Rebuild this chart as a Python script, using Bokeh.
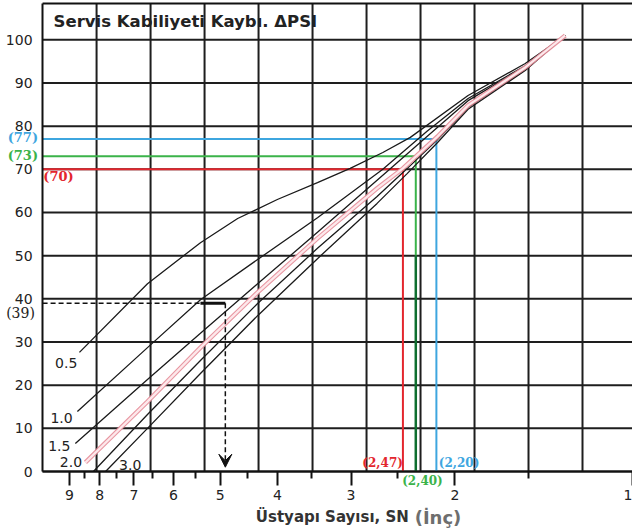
from bokeh.plotting import figure
from bokeh.models import Range1d, FixedTicker, PrintfTickFormatter, Label, Arrow, VeeHead, ColumnDataSource
from bokeh.embed import file_html
from bokeh.resources import INLINE
from bokeh.core.properties import value

# ---------------- data ----------------
# Delta PSI curves: SN (x, log scale, reversed) vs. chart value (y)
sn_05 = [8.66, 6.64, 5.40, 4.67, 4.00, 3.42, 3.01, 2.65, 2.38, 1.90, 1.52, 1.30]
y_05 = [27.6, 43.5, 53.0, 58.6, 63.0, 66.9, 70.2, 73.9, 77.4, 87.1, 94.5, 101.0]

sn_10 = [8.73, 6.64, 5.40, 4.32, 3.42, 2.65, 2.23, 1.90, 1.52, 1.30]
y_10 = [13.9, 28.7, 39.8, 49.1, 58.8, 70.0, 78.8, 86.4, 94.0, 101.0]

sn_15 = [8.80, 6.64, 5.40, 4.32, 3.42, 2.58, 2.23, 1.90, 1.52, 1.30]
y_15 = [6.5, 21.3, 32.0, 43.5, 55.4, 70.0, 77.6, 85.9, 93.8, 101.0]

sn_20 = [8.46, 6.64, 5.40, 4.32, 3.42, 2.71, 2.45, 2.14, 1.90, 1.52, 1.30]
y_20 = [2.1, 16.2, 28.7, 41.5, 54.0, 65.6, 70.2, 77.6, 84.8, 93.6, 101.0]

sn_25 = [8.20, 6.64, 5.40, 4.32, 3.42, 2.71, 2.43, 2.14, 1.90, 1.52, 1.30]
y_25 = [0.0, 13.2, 25.7, 38.9, 51.7, 63.7, 69.7, 76.9, 84.3, 93.1, 101.0]

sn_30 = [7.82, 6.64, 5.40, 4.32, 3.42, 2.71, 2.41, 2.14, 1.90, 1.52, 1.30]
y_30 = [0.0, 10.0, 22.7, 36.1, 49.3, 62.1, 69.0, 76.2, 83.9, 92.9, 101.0]

curve_labels = ["0.5", "1.0", "1.5", "2.0", "3.0"]
curve_label_sn = [8.73, 8.89, 8.97, 8.57, 7.42]
curve_label_y = [25.2, 12.5, 6.0, 2.3, 1.6]

# worked examples (red, green, blue)
ex_y = [70, 73, 77]
ex_sn = [2.45, 2.33, 2.15]
ex_y_text = ["(70)", "(73)", "(77)"]
ex_sn_text = ["(2,47)", "(2,40)", "(2,20)"]
ex_colors = ["#e3262e", "#3bb34a", "#3ea6df"]

# dashed example
dash_y = 39
dash_turn_sn = 5.40
dash_sn = 4.90

# axis ticks / chart box
x_major = [1, 2, 3, 4, 5, 6, 7, 8, 9]
x_minor = [1.5, 2.5, 3.5, 4.5, 5.5, 6.5, 7.5, 8.5]
y_major = [0, 10, 20, 30, 40, 50, 60, 70, 80, 90, 100]
sn_edge = 10.0       # SN at the left edge of the chart box
sn_right = 1.0
y_top = 108.4
grid_cols = 11       # equally spaced vertical grid columns

# ---------------- figure ----------------
# the frame covers the whole canvas; the axes are pinned at the chart box edges
p = figure(width=632, height=528, x_axis_type="log",
           x_range=Range1d(11.785, sn_right), y_range=Range1d(-13.2, 109.1),
           output_backend="svg", toolbar_location=None,
           min_border=0, min_border_left=0, min_border_right=0,
           min_border_top=0, min_border_bottom=0)
p.background_fill_color = "white"
p.border_fill_color = "white"
p.outline_line_color = None
p.xgrid.visible = False
p.ygrid.visible = False

xa = p.xaxis[0]
xa.fixed_location = 0
xa.bounds = (sn_right, sn_edge)
xa.ticker = FixedTicker(ticks=x_major, minor_ticks=x_minor)
xa.formatter = PrintfTickFormatter(format="%d")
xa.axis_line_width = 2
xa.axis_line_color = "#111111"
xa.major_tick_in = 0
xa.major_tick_out = 14
xa.minor_tick_in = 0
xa.minor_tick_out = 7
xa.major_tick_line_width = 2
xa.minor_tick_line_width = 2
xa.major_tick_line_color = "#111111"
xa.minor_tick_line_color = "#111111"
xa.major_label_text_font = "DejaVu Sans"
xa.major_label_text_font_size = "14px"
xa.major_label_text_color = "#222222"
xa.major_label_standoff = 4

ya = p.yaxis[0]
ya.fixed_location = sn_edge
ya.bounds = (0, y_top)
ya.ticker = FixedTicker(ticks=y_major)
ya.axis_line_width = 2
ya.axis_line_color = "#111111"
ya.major_tick_in = 0
ya.major_tick_out = 0
ya.minor_tick_in = 0
ya.minor_tick_out = 0
ya.major_label_text_font = "DejaVu Sans"
ya.major_label_text_font_size = "14px"
ya.major_label_text_color = "#222222"
ya.major_label_standoff = 10

# chart box grid (vertical columns equally spaced, horizontal at the y ticks)
grid_x = [sn_edge * 10 ** (-i * 54.0 / 590.0) for i in range(1, grid_cols + 1)]
p.segment(x0=grid_x, y0=[0] * len(grid_x), x1=grid_x, y1=[y_top] * len(grid_x),
          line_color="#1e1e1e", line_width=2)
p.segment(x0=[sn_edge] * len(y_major), y0=y_major, x1=[sn_right] * len(y_major), y1=y_major,
          line_color="#1e1e1e", line_width=2)
p.line([sn_edge, sn_right], [y_top, y_top], line_color="#111111", line_width=2)

# example guide lines
for yv, sv, col in zip(ex_y, ex_sn, ex_colors):
    p.line([sn_edge, sv], [yv, yv], line_color=col, line_width=2)
p.line([ex_sn[0], ex_sn[0]], [0, ex_y[0]], line_color=ex_colors[0], line_width=2)
p.line([ex_sn[1], ex_sn[1]], [50, ex_y[1]], line_color=ex_colors[1], line_width=2)
p.line([ex_sn[1], ex_sn[1]], [0, 50], line_color="#0f6e2f", line_width=2.5)
p.line([ex_sn[2], ex_sn[2]], [0, ex_y[2]], line_color=ex_colors[2], line_width=2)

# curves
for xs, ys in [(sn_05, y_05), (sn_10, y_10), (sn_15, y_15), (sn_25, y_25), (sn_30, y_30)]:
    p.line(xs, ys, line_color="#1a1a1a", line_width=1.3)
p.line(sn_20, y_20, line_color="#e58c98", line_width=4.5, line_alpha=0.9)
p.line(sn_20, y_20, line_color="#fde8eb", line_width=2.3)

# dashed example path
p.line([sn_edge, dash_turn_sn], [dash_y, dash_y], line_color="#111111", line_width=1.5, line_dash="5 3")
p.line([dash_turn_sn, dash_sn], [dash_y, dash_y], line_color="#111111", line_width=3)
p.add_layout(Arrow(end=VeeHead(size=13, fill_color="#111111", line_color="#111111"),
                   x_start=dash_sn, y_start=dash_y, x_end=dash_sn, y_end=1.0,
                   line_color="#111111", line_width=1.5, line_dash="5 3"))

# curve labels
src = ColumnDataSource(dict(x=curve_label_sn[:4], y=curve_label_y[:4], t=curve_labels[:4]))
p.text(x="x", y="y", text="t", source=src, text_align="right", text_baseline="middle",
       text_font=value("DejaVu Sans"), text_font_size=value("14px"), text_color="#222222")
p.text(x=[curve_label_sn[4]], y=[curve_label_y[4]], text=[curve_labels[4]], text_align="left",
       text_baseline="middle", text_font=value("DejaVu Sans"), text_font_size=value("14px"),
       text_color="#222222")


def lab(x, y, t, color, size, bold=True, align="center", font="DejaVu Serif", baseline="middle"):
    p.add_layout(Label(x=x, y=y, text=t, text_color=color, text_font=font,
                       text_font_size=size, text_font_style="bold" if bold else "normal",
                       text_align=align, text_baseline=baseline))


# value labels
lab(10.8, 77.3, ex_y_text[2], ex_colors[2], "13px")
lab(10.8, 73.2, ex_y_text[1], ex_colors[1], "13px")
lab(9.4, 68.4, ex_y_text[0], ex_colors[0], "13px")
lab(10.9, 36.8, "(39)", "#222222", "14px", bold=False)
lab(ex_sn[0], 2.0, ex_sn_text[0], ex_colors[0], "12px", align="right")
lab(2.27, -2.1, ex_sn_text[1], ex_colors[1], "12px")
lab(2.13, 2.0, ex_sn_text[2], ex_colors[2], "12px", align="left")

# title inside the chart box
lab(9.58, 104.2, "Servis Kabiliyeti Kaybı. ΔPSI", "#222222", "16.5px", align="left", font="DejaVu Sans")

# x axis title
lab(4.35, -10.6, "Üstyapı Sayısı, SN", "#333333", "15px", align="left", font="DejaVu Sans", baseline="alphabetic")
lab(2.34, -10.6, "(İnç)", "#6e6e6e", "18px", align="left", font="DejaVu Sans", baseline="alphabetic")

open("out.html", "w").write(file_html(p, INLINE))
